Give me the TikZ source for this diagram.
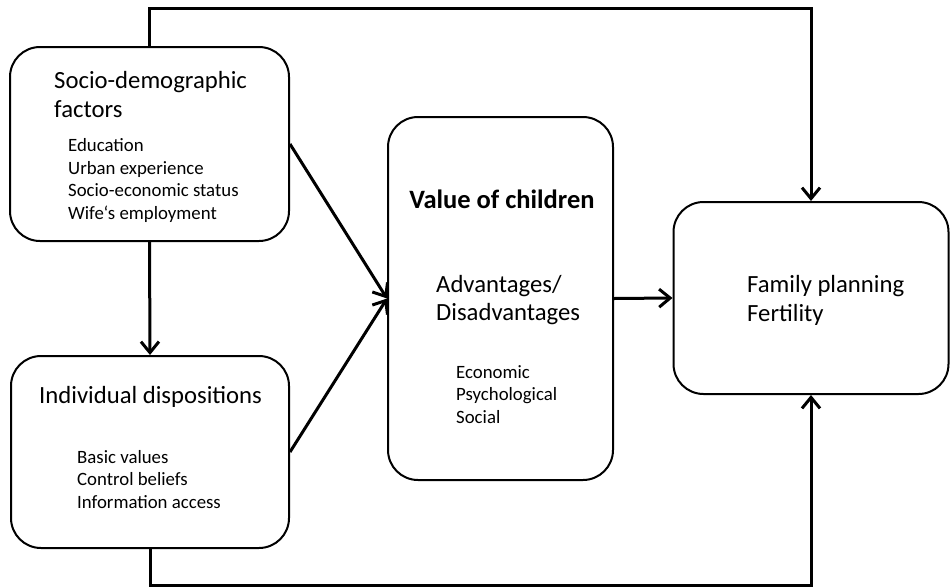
\documentclass[tikz,border=0pt]{standalone}
\usepackage{fontspec}
\setmainfont{Carlito}
\usetikzlibrary{arrows.meta}

\begin{document}
\begin{tikzpicture}[x=1pt,y=-1pt,
		box/.style={draw,line width=2pt,rounded corners=30pt,inner sep=0pt},
		conn/.style={line width=3pt,-{Straight Barb[length=11pt,width=18pt,line width=3pt]}},
		title/.style={anchor=base west,inner sep=0pt,font=\fontsize{24.7}{29}\selectfont},
		item/.style={anchor=base west,inner sep=0pt,font=\fontsize{18.8}{22}\selectfont}]
		\useasboundingbox (0,0) rectangle (950,587);
		
		% the four boxes
		\node[box,minimum width=279pt,minimum height=194pt] (sd) at (149.5,144) {};
		\node[box,minimum width=278pt,minimum height=192pt] (id) at (150,452) {};
		\node[box,minimum width=225pt,minimum height=363pt] (vc) at (500.5,298.5) {};
		\node[box,minimum width=275pt,minimum height=192pt] (fp) at (811,298) {};
		
		\node[title] (sdt1) at (54,88) {Socio-demographic};
		\node[title] (sdt2) at (54,117) {factors};
		\foreach \txt [count=\i] in {Education,Urban experience,Socio-economic status,Wife`s employment}
		{
			\node[item] (sdi\i) at (68,129.5+22.4*\i) {\txt};
		}
		
		\node[title] (idt) at (39,403) {Individual dispositions};
		\foreach \txt [count=\i] in {Basic values,Control beliefs,Information access}
		{
			\node[item] (idi\i) at (77,440.5+22.5*\i) {\txt};
		}
		
		\node[title,anchor=base,font=\fontsize{26.5}{29}\selectfont\bfseries] (vct) at (502,208) {Value of children};
		\node[title] (vca1) at (436,292) {Advantages/};
		\node[title] (vca2) at (436,320) {Disadvantages};
		\foreach \txt [count=\i] in {Economic,Psychological,Social}
		{
			\node[item] (vci\i) at (456,355.5+22.5*\i) {\txt};
		}
		
		\node[title] (fpt1) at (747,292) {Family planning};
		\node[title] (fpt2) at (747,321) {Fertility};
		
		% connectors
		\coordinate (top) at (811,8);
		\coordinate (bot) at (811,585);
		\draw[conn] (sd.south) -- (id.north);
		\draw[conn] (sd.east) -- (vc.west);
		\draw[conn] (id.east) -- (vc.west);
		\draw[conn] (vc.east) -- (fp.west);
		\draw[conn] (sd.north) |- (top) -- (fp.north);
		\draw[conn] (id.south) |- (bot) -- (fp.south);
\end{tikzpicture}
\end{document}
